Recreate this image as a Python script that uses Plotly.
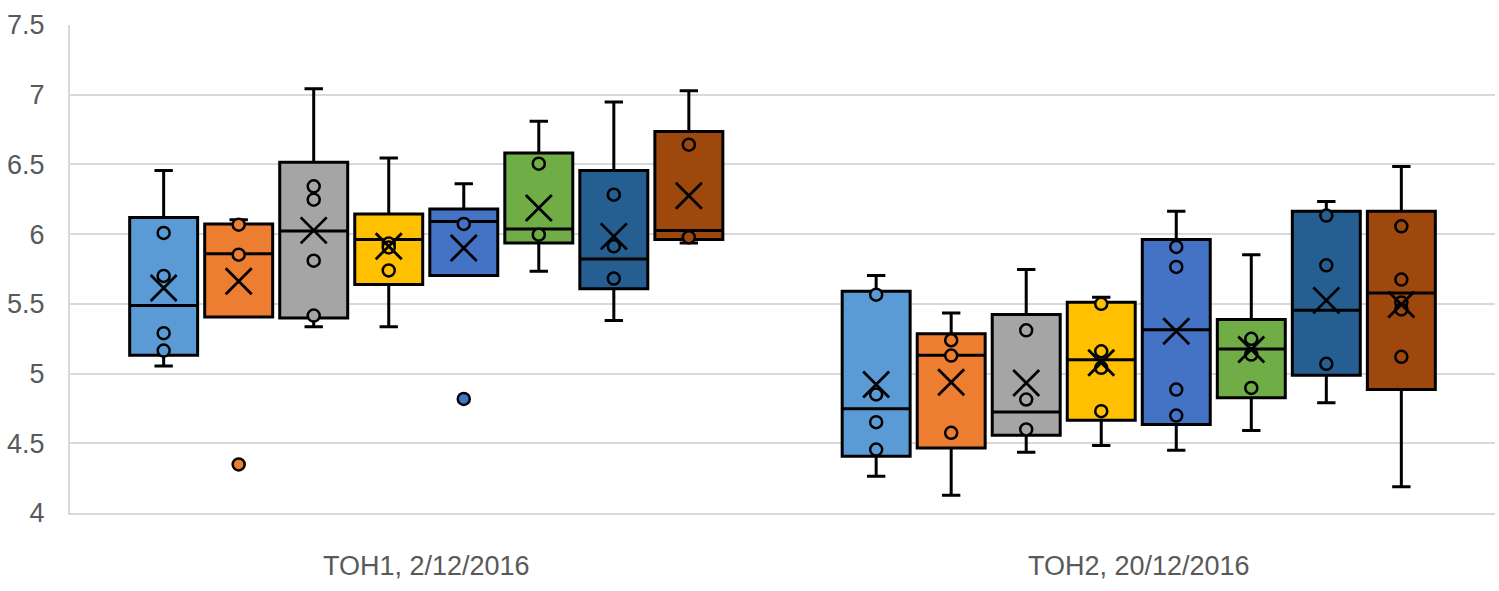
import plotly.graph_objects as go

categories = ["TOH1, 2/12/2016", "TOH2, 20/12/2016"]
series_names = ["Series 1", "Series 2", "Series 3", "Series 4",
                "Series 5", "Series 6", "Series 7", "Series 8"]
colors = ["#5B9BD5", "#ED7D31", "#A5A5A5", "#FFC000",
          "#4472C4", "#70AD47", "#255E91", "#9E480E"]

# per series: [TOH1, TOH2]
upper_whisker = [[6.457, 5.703], [6.104, 5.435], [7.043, 5.746], [6.546, 5.547],
                 [6.362, 6.164], [6.809, 5.853], [6.947, 6.235], [7.029, 6.486]]
q3_values = [[6.120, 5.590], [6.073, 5.285], [6.515, 5.423], [6.145, 5.511],
             [6.181, 5.961], [6.582, 5.387], [6.457, 6.164], [6.737, 6.164]]
median_values = [[5.488, 4.747], [5.860, 5.131], [6.023, 4.725], [5.961, 5.100],
                 [6.090, 5.315], [6.037, 5.177], [5.822, 5.454], [6.027, 5.578]]
q1_values = [[5.131, 4.407], [5.406, 4.467], [5.399, 4.558], [5.638, 4.665],
             [5.703, 4.634], [5.937, 4.826], [5.609, 4.988], [5.961, 4.885]]
lower_whisker = [[5.055, 4.264], [5.406, 4.128], [5.335, 4.436], [5.335, 4.484],
                 [5.703, 4.450], [5.733, 4.591], [5.380, 4.790], [5.937, 4.188]]
mean_values = [[5.614, 4.921], [5.662, 4.938], [6.027, 4.933], [5.913, 5.077],
               [5.900, 5.303], [6.188, 5.172], [5.984, 5.525], [6.276, 5.495]]
inner_points = [
    [[6.009, 5.700, 5.290, 5.165], [5.566, 4.850, 4.651, 4.455]],
    [[6.068, 5.853], [5.239, 5.129, 4.575]],
    [[6.343, 6.247, 5.810, 5.416], [5.310, 4.814, 4.599]],
    [[5.932, 5.905, 5.740], [5.500, 5.160, 5.041, 4.730]],
    [[6.073], [5.908, 5.765, 4.885, 4.699]],
    [[6.505, 5.996], [5.249, 5.136, 4.897]],
    [[6.283, 5.913, 5.681], [6.133, 5.776, 5.070]],
    [[6.642, 5.977], [6.056, 5.674, 5.510, 5.460, 5.120]],
]
outlier_points = [
    [[], []], [[4.348], []], [[], []], [[], []],
    [[4.818], []], [[], []], [[], []], [[], []],
]

SLOT = 0.1053
BOX_W = 0.0954
FONT = "Liberation Sans Narrow, Arial Narrow, Liberation Sans, sans-serif"
FSIZE = 27

fig = go.Figure()
n = len(series_names)
for s in range(n):
    xs = [c + (s - (n - 1) / 2) * SLOT for c in range(len(categories))]
    fig.add_trace(go.Box(
        x=xs, q1=q1_values[s], median=median_values[s], q3=q3_values[s],
        lowerfence=lower_whisker[s], upperfence=upper_whisker[s],
        name=series_names[s], width=BOX_W, whiskerwidth=0.27,
        fillcolor=colors[s], line=dict(color="black", width=3),
        boxpoints=False, showlegend=False, hoverinfo="skip",
    ))
for s in range(n):
    xs = [c + (s - (n - 1) / 2) * SLOT for c in range(len(categories))]
    px, py = [], []
    for c in range(len(categories)):
        for v in inner_points[s][c]:
            px.append(xs[c]); py.append(v)
    fig.add_trace(go.Scatter(
        x=px, y=py, mode="markers", showlegend=False, hoverinfo="skip",
        marker=dict(symbol="circle", size=12, color=colors[s],
                    line=dict(color="black", width=2.5)),
    ))
    ox, oy = [], []
    for c in range(len(categories)):
        for v in outlier_points[s][c]:
            ox.append(xs[c]); oy.append(v)
    if ox:
        fig.add_trace(go.Scatter(
            x=ox, y=oy, mode="markers", showlegend=False, hoverinfo="skip",
            marker=dict(symbol="circle", size=12, color=colors[s],
                        line=dict(color="black", width=2.5)),
        ))
    fig.add_trace(go.Scatter(
        x=xs, y=mean_values[s], mode="markers", showlegend=False, hoverinfo="skip",
        marker=dict(symbol="x-thin", size=26, color="black",
                    line=dict(color="black", width=2.8)),
    ))

fig.update_layout(
    width=1499, height=591,
    margin=dict(l=70, r=4, t=25, b=78),
    paper_bgcolor="white", plot_bgcolor="white",
    showlegend=False,
    font=dict(family=FONT, size=FSIZE, color="#595959"),
)
fig.update_xaxes(
    range=[-0.5, 1.5], tickvals=list(range(len(categories))), ticktext=categories,
    showgrid=False, zeroline=False, showline=True, linecolor="#D9D9D9", linewidth=2,
    ticks="", ticklabelstandoff=28, tickfont=dict(family=FONT, size=FSIZE, color="#595959"),
)
fig.update_yaxes(
    range=[4, 7.5], dtick=0.5, tick0=4, showgrid=True, gridcolor="#D9D9D9", gridwidth=2,
    zeroline=False, showline=True, linecolor="#D9D9D9", linewidth=2,
    ticks="", ticklabelstandoff=18, tickfont=dict(family=FONT, size=FSIZE, color="#595959"),
)

fig.write_html(
    "out.html",
    config={"displayModeBar": False},
    post_script="document.body.style.margin='0';document.body.style.overflow='hidden';",
)
